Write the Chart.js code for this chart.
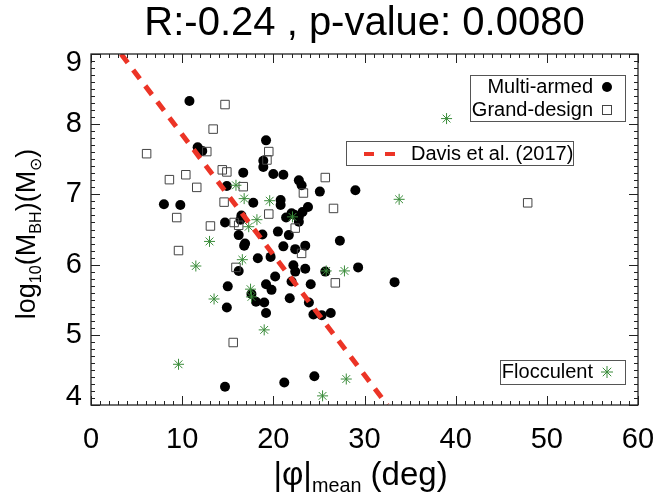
<!DOCTYPE html>
<html>
<head>
<meta charset="utf-8">
<script src="https://cdn.jsdelivr.net/npm/chart.js@4.4.1/dist/chart.umd.min.js"></script>
<style>
  html, body { margin: 0; padding: 0; background: #fff; }
  #wrap { width: 657px; height: 495px; }
</style>
</head>
<body>
<div id="wrap"><canvas id="c" width="657" height="495"></canvas></div>
<script>
// --- data: [|phi|mean (deg), log10 M_BH] ---
const multiArmed = [
  [10.8,8.33],[19.2,7.77],[11.7,7.67],[12.2,7.62],[18.9,7.48],[18.9,7.39],[16.7,7.31],
  [20.0,7.29],[21.1,7.28],[22.8,7.20],[23.1,7.13],[14.9,7.12],[25.1,7.04],[29.0,7.06],
  [17.8,6.88],[8.0,6.86],[9.8,6.85],[20.8,6.92],[20.8,6.85],[23.8,6.82],[23.2,6.75],
  [22.0,6.73],[21.4,6.67],[22.8,6.68],[22.3,6.71],[22.8,6.61],[16.5,6.70],[16.4,6.64],
  [14.7,6.60],[16.2,6.42],[18.8,6.43],[20.5,6.47],[21.7,6.42],[16.9,6.30],[16.8,6.27],
  [27.3,6.34],[21.1,6.26],[22.4,6.22],[23.5,6.27],[18.3,6.09],[19.7,6.11],[16.2,5.91],
  [22.2,5.99],[22.4,5.90],[23.5,5.94],[25.7,5.90],[29.3,5.96],[33.3,5.75],[20.2,5.83],
  [19.2,5.72],[19.8,5.64],[22.0,5.76],[24.1,5.72],[15.0,5.69],[17.6,5.58],[18.1,5.47],
  [19.0,5.46],[21.8,5.52],[23.9,5.46],[19.2,5.31],[14.9,5.39],[24.4,5.29],[25.3,5.28],
  [26.3,5.31],[24.5,4.41],[21.2,4.32],[14.7,4.26]
];
const grandDesign = [
  [14.7,8.28],[13.4,7.93],[12.7,7.61],[6.1,7.58],[19.5,7.61],[19.3,7.49],[14.4,7.35],
  [14.9,7.32],[10.4,7.28],[8.6,7.21],[11.6,7.10],[16.7,7.11],[14.6,6.89],[9.4,6.67],
  [19.5,6.72],[13.1,6.55],[15.7,6.60],[16.2,6.56],[9.6,6.20],[15.9,5.96],[15.6,4.89],
  [25.7,7.24],[23.3,7.02],[26.6,6.80],[22.4,6.52],[23.1,6.16],[26.8,5.74],[47.9,6.88]
];
const flocculent = [
  [15.9,7.13],[16.8,6.94],[19.6,6.91],[18.2,6.64],[17.3,6.54],[22.1,6.68],[13.0,6.33],
  [16.6,6.07],[11.5,5.98],[17.5,5.65],[17.6,5.54],[13.5,5.51],[19.0,5.07],[9.6,4.58],
  [25.8,5.91],[27.8,5.91],[33.8,6.93],[39.0,8.08],[28.0,4.37],[25.4,4.13]
];
// Davis et al. (2017) relation, end points
const davisLine = [[3.3, 9.0], [32.5, 4.0]];

const xTicks = [0, 10, 20, 30, 40, 50, 60];
const yTicks = [4, 5, 6, 7, 8, 9];
const titleText = 'R:-0.24 , p-value: 0.0080';

const FONT = "'Liberation Sans', Arial, Helvetica, sans-serif";
const GREEN = 'rgb(58,140,58)';
const RED = 'rgb(236,52,38)';

const toXY = arr => arr.map(p => ({ x: p[0], y: p[1] }));

// --- inward ticks + frame, IDL style ---
const framePlugin = {
  id: 'frame',
  afterDatasetsDraw(chart) {
    const { ctx, chartArea: a, scales: { x, y } } = chart;
    ctx.save();
    ctx.strokeStyle = '#222';
    ctx.lineWidth = 1;
    ctx.beginPath();
    for (let v = xTicks[0]; v <= xTicks[xTicks.length - 1] + 1e-6; v += 1) {
      const px = Math.round(x.getPixelForValue(v)) + 0.5;
      const len = (Math.round(v) % 10 === 0) ? 9 : 4;
      ctx.moveTo(px, a.bottom); ctx.lineTo(px, a.bottom - len);
      ctx.moveTo(px, a.top); ctx.lineTo(px, a.top + len);
    }
    for (let i = 0; i <= (yTicks[yTicks.length - 1] - yTicks[0]) * 10; i++) {
      const v = yTicks[0] + i / 10;
      const py = Math.round(y.getPixelForValue(v)) + 0.5;
      const len = (i % 10 === 0) ? 9 : 4;
      ctx.moveTo(a.left, py); ctx.lineTo(a.left + len, py);
      ctx.moveTo(a.right, py); ctx.lineTo(a.right - len, py);
    }
    ctx.stroke();
    ctx.lineWidth = 1.3;
    ctx.strokeRect(a.left, a.top, a.right - a.left, a.bottom - a.top);
    ctx.restore();
  }
};

// end labels of the y axis sit a little inside the frame, as in the original
const yEndLabels = {
  id: 'yEndLabels',
  beforeDraw(chart) {
    const items = chart.scales.y.getLabelItems();
    if (!items.length) return;
    items[0].options.translation[1] -= 8;
    items[items.length - 1].options.translation[1] += 9;
  }
};

// --- axis titles with subscripts ---
function drawParts(ctx, parts, x, y, size) {
  let cx = x;
  parts.forEach(p => {
    const s = p.sub ? size * 0.6 : size;
    ctx.font = s + 'px ' + FONT;
    ctx.fillText(p.t, cx, y + (p.sub ? size * 0.22 : 0));
    cx += ctx.measureText(p.t).width;
  });
  return cx - x;
}
function measureParts(ctx, parts, size) {
  let w = 0;
  parts.forEach(p => {
    ctx.font = (p.sub ? size * 0.6 : size) + 'px ' + FONT;
    w += ctx.measureText(p.t).width;
  });
  return w;
}
const xTitle = [{ t: '|\u03c6|' }, { t: 'mean', sub: true }, { t: ' (deg)' }];
const yTitle = [{ t: 'log' }, { t: '10', sub: true }, { t: '(M' }, { t: 'BH', sub: true },
                { t: ')(M' }, { t: '\u2299', sub: true }, { t: ')' }];

const axisTitlePlugin = {
  id: 'axisTitles',
  afterDraw(chart) {
    const { ctx, chartArea: a } = chart;
    ctx.save();
    ctx.fillStyle = '#000';
    ctx.textBaseline = 'alphabetic';
    ctx.textAlign = 'left';
    const sx = 33;
    const wx = measureParts(ctx, xTitle, sx);
    drawParts(ctx, xTitle, (a.left + a.right) / 2 - 4 - wx / 2, 485, sx);
    const sy = 27;
    const wy = measureParts(ctx, yTitle, sy);
    ctx.translate(35, 234);
    ctx.rotate(-Math.PI / 2);
    drawParts(ctx, yTitle, -wy / 2, 0, sy);
    ctx.restore();
  }
};

// --- the three legend boxes ---
const legendPlugin = {
  id: 'boxes',
  afterDraw(chart) {
    const ctx = chart.ctx;
    ctx.save();
    ctx.strokeStyle = '#555';
    ctx.lineWidth = 1;
    ctx.font = '20px ' + FONT;
    ctx.fillStyle = '#000';
    ctx.textBaseline = 'middle';

    // Multi-armed / Grand-design
    ctx.strokeRect(470.5, 75.5, 155, 46);
    ctx.textAlign = 'right';
    ctx.fillText('Multi-armed', 593, 87);
    ctx.fillText('Grand-design', 593, 110);
    ctx.beginPath(); ctx.arc(607, 87, 5, 0, Math.PI * 2); ctx.fill();
    ctx.strokeStyle = '#444';
    ctx.strokeRect(602.5, 105.5, 9, 9);

    // Davis et al.
    ctx.strokeStyle = '#555';
    ctx.strokeRect(346.5, 141.5, 227, 24);
    ctx.textAlign = 'left';
    ctx.fillText('Davis et al. (2017)', 411, 154);
    ctx.strokeStyle = RED;
    ctx.lineWidth = 4;
    ctx.setLineDash([10, 11]);
    ctx.beginPath(); ctx.moveTo(364, 154); ctx.lineTo(400, 154); ctx.stroke();
    ctx.setLineDash([]);

    // Flocculent
    ctx.strokeStyle = '#555';
    ctx.lineWidth = 1;
    ctx.strokeRect(500.5, 360.5, 125, 24);
    ctx.textAlign = 'right';
    ctx.fillText('Flocculent', 593, 372);
    ctx.strokeStyle = GREEN;
    Chart.helpers.drawPoint(ctx, { pointStyle: 'star', radius: 6, rotation: 0, borderWidth: 1 }, 607, 372);
    ctx.restore();
  }
};

new Chart(document.getElementById('c'), {
  type: 'scatter',
  data: {
    datasets: [
      {
        label: 'Davis et al. (2017)',
        type: 'line',
        data: toXY(davisLine),
        borderColor: RED,
        borderWidth: 5,
        borderDash: [11, 9],
        pointRadius: 0,
        fill: false
      },
      {
        label: 'Flocculent',
        data: toXY(flocculent),
        pointStyle: 'star',
        pointRadius: 5.5,
        borderColor: GREEN,
        backgroundColor: GREEN,
        borderWidth: 1
      },
      {
        label: 'Grand-design',
        data: toXY(grandDesign),
        pointStyle: 'rect',
        pointRadius: 6,
        borderColor: '#444',
        backgroundColor: 'rgba(0,0,0,0)',
        borderWidth: 1
      },
      {
        label: 'Multi-armed',
        data: toXY(multiArmed),
        pointStyle: 'circle',
        pointRadius: 5,
        borderColor: '#000',
        backgroundColor: '#000',
        borderWidth: 0
      }
    ]
  },
  options: {
    responsive: false,
    animation: false,
    layout: { padding: { left: 0, right: 19, top: 0, bottom: 0 } },
    plugins: {
      legend: { display: false },
      tooltip: { enabled: false },
      title: {
        display: true,
        text: titleText,
        fullSize: false,
        color: '#000',
        font: { family: FONT, size: 40, weight: 'normal' },
        padding: { top: 0, bottom: 6 }
      }
    },
    scales: {
      x: {
        type: 'linear',
        min: xTicks[0],
        max: xTicks[xTicks.length - 1],
        afterBuildTicks: s => { s.ticks = xTicks.map(v => ({ value: v })); },
        afterFit: s => { s.height = 90; s.paddingLeft = 0; s.paddingRight = 0; },
        grid: { display: false, drawTicks: false },
        border: { display: false },
        ticks: { color: '#000', padding: 18, maxRotation: 0, font: { family: FONT, size: 29 } }
      },
      y: {
        type: 'linear',
        min: yTicks[0],
        max: yTicks[yTicks.length - 1],
        afterBuildTicks: s => { s.ticks = yTicks.map(v => ({ value: v })); },
        afterFit: s => { s.width = 91; s.paddingTop = 0; s.paddingBottom = 0; },
        grid: { display: false, drawTicks: false },
        border: { display: false },
        ticks: { color: '#000', padding: 9, font: { family: FONT, size: 29 } }
      }
    }
  },
  plugins: [yEndLabels, framePlugin, axisTitlePlugin, legendPlugin]
});
</script>
</body>
</html>
